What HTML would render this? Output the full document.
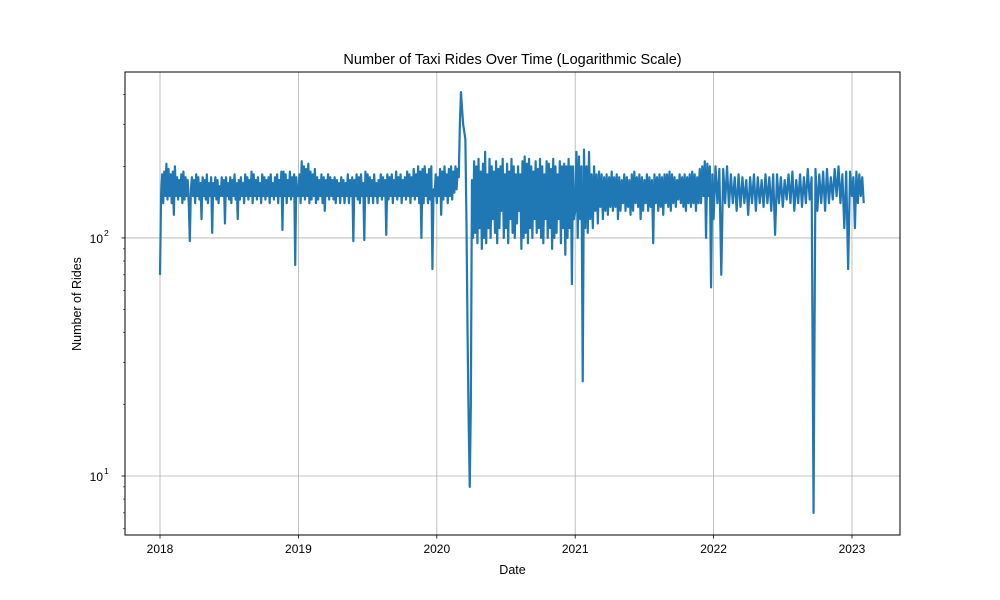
<!DOCTYPE html>
<html><head><meta charset="utf-8"><style>
body{margin:0;background:#fff;}
svg{display:block;font-family:"Liberation Sans","DejaVu Sans",sans-serif;}
</style></head><body>
<svg id="chart" width="1000" height="600">
<rect width="1000" height="600" fill="#fff"/>
<text x="512.5" y="64" font-size="14.5" text-anchor="middle">Number of Taxi Rides Over Time (Logarithmic Scale)</text>
<text x="512.5" y="574" font-size="12.5" text-anchor="middle">Date</text>
<text transform="translate(81,304) rotate(-90)" font-size="12.5" text-anchor="middle">Number of Rides</text>
<g id="grid"></g>
<defs><clipPath id="pc"><rect x="125" y="72" width="775" height="463"/></clipPath></defs>
<g id="series" clip-path="url(#pc)"></g>
<rect x="125" y="72" width="775" height="463" fill="none" stroke="#000" stroke-width="1"/>
<g id="axes"></g>
</svg>
<script>
const xTickLabels = ["2018","2019","2020","2021","2022","2023"];
const xTickYears = [2018,2019,2020,2021,2022,2023];
const yMajorTicks = [10,100];
const yMajorLabels = ["10","10"];
const yMajorExps = ["1","2"];
const yMinorTicks = [6,7,8,9,20,30,40,50,60,70,80,90,200,300,400];
const yearStarts = [2018,2019,2020,2021,2022,2023];
const rides2018 = [70,150,185,140,190,150,205,145,195,150,185,140,190,125,200,150,180,145,175,150,185,140,190,145,180,150,175,140,97,160,
180,150,175,140,185,150,180,145,170,120,180,150,175,145,185,140,170,150,180,105,170,150,180,145,175,140,165,150,180,150,
175,115,180,150,170,145,180,140,175,150,185,145,170,120,175,145,180,150,170,140,185,150,180,145,175,150,190,140,185,150,
175,145,180,150,170,140,185,150,180,145,175,150,180,140,185,150,170,145,180,150,185,140,175,150,190,108,190,150,185,140,
175,150,190,145,180,150,185,77,180,150];
const rides2019 = [150,185,140,210,150,200,145,195,150,205,140,190,145,185,150,195,140,180,145,175,150,185,140,180,130,175,150,185,145,180,
150,175,145,180,140,175,150,170,140,180,150,175,140,170,150,185,140,175,150,180,97,175,150,185,145,180,140,185,150,170,
98,190,150,185,140,180,150,175,140,185,150,170,140,175,150,185,145,180,150,175,103,185,145,180,150,185,140,175,150,190,
145,180,150,185,140,175,150,180,145,190,150,185,140,180,150,195,145,185,150,200,140,190,100,195,140,200,150,185,140,195,
145,200,74,160,150,185];
const rides2020 = [140,180,150,195,125,190,145,200,150,185,140,195,150,200,145,190,155,200,160,195,180,300,410,350,300,280,260,120,40,17,
9,20,175,100,210,105,200,95,215,110,190,90,205,100,230,95,185,110,215,100,200,120,190,105,210,95,195,110,200,130,
215,100,185,110,205,95,190,120,215,105,200,100,185,115,200,130,185,90,210,100,220,105,205,95,215,110,200,100,190,120,
210,105,195,110,215,100,200,95,185,120,210,100,205,110,195,90,215,100,200,105,185,120,210,95,200,110,205,85,200,100,
215,110,200,64,200,120];
const rides2021 = [130,230,100,220,120,200,25,235,110,200,105,230,120,185,110,200,130,185,115,190,135,185,120,180,130,185,125,180,135,190,
130,180,135,185,120,180,130,175,140,185,130,180,135,175,125,185,130,190,140,180,135,185,120,180,130,175,140,185,130,180,
135,175,95,185,140,180,130,185,135,180,125,185,140,185,135,190,130,185,140,180,135,175,145,185,140,180,135,185,130,180,
140,185,135,190,140,185,130,180,140,195,140,200,150,210,100,205,150,200,62,185];
const rides2022 = [120,200,140,195,70,195,140,200,135,185,140,180,130,185,135,180,140,175,125,180,140,185,130,180,140,175,135,185,140,180,
130,185,103,185,140,180,135,175,145,185,140,190,130,175,140,185,135,180,140,195,145,180,7,195,130,185,140,190,130,195,
140,180,145,195,150,200,140,185,110,190,74,190];
const rides2023 = [150,180,110,190,140,185,150,180,140];
const allSeries = [rides2018,rides2019,rides2020,rides2021,rides2022,rides2023];
const lastYearFrac = 0.085;

const NS="http://www.w3.org/2000/svg";
const X0=125,X1=900,Y0=72,Y1=535;
const xMin=2017.747, xMax=2023.347;
const lMin=Math.log10(5.65), lMax=Math.log10(498);
function xs(t){return X0+(t-xMin)/(xMax-xMin)*(X1-X0);}
function ys(v){return Y1-(Math.log10(v)-lMin)/(lMax-lMin)*(Y1-Y0);}
function mk(tag,attrs,parent){const e=document.createElementNS(NS,tag);for(const k in attrs)e.setAttribute(k,attrs[k]);parent.appendChild(e);return e;}
const grid=document.getElementById('grid'),axes=document.getElementById('axes'),ser=document.getElementById('series');
xTickYears.forEach((yr,i)=>{
  const x=xs(yr);
  const g=mk('line',{x1:x,x2:x,y1:Y0,y2:Y1,stroke:'#b0b0b0','stroke-width':0.8},grid);
  
  
  const t=mk('line',{x1:x,x2:x,y1:Y1,y2:Y1+3.5,stroke:'#000','stroke-width':0.8},axes);
  
  
  const l=mk('text',{x:x,y:Y1+18,'font-size':12,'text-anchor':'middle'},axes);
  l.textContent=xTickLabels[i];
  
  
});
yMajorTicks.forEach((v,i)=>{
  const y=ys(v);
  const g=mk('line',{x1:X0,x2:X1,y1:y,y2:y,stroke:'#b0b0b0','stroke-width':0.8},grid);
  
  
  const t=mk('line',{x1:X0-3.5,x2:X0,y1:y,y2:y,stroke:'#000','stroke-width':0.8},axes);
  
  
  const l=mk('text',{x:X0-22,y:y+5,'font-size':12,'text-anchor':'end'},axes);
  l.textContent=yMajorLabels[i];
  
  
  const s=mk('text',{x:X0-21,y:y-2,'font-size':8.5},axes);
  s.textContent=yMajorExps[i];
  
  
});
yMinorTicks.forEach(v=>{
  const y=ys(v);
  const t=mk('line',{x1:X0-2,x2:X0,y1:y,y2:y,stroke:'#000','stroke-width':0.6},axes);
  
  
});
let pts=[];
allSeries.forEach((arr,k)=>{
  const last = k===allSeries.length-1;
  const span = last?lastYearFrac:1;
  arr.forEach((v,i)=>{
    const t=yearStarts[k]+ i/(last?arr.length-1:arr.length)*span;
    pts.push(xs(t).toFixed(2)+','+ys(v).toFixed(2));
  });
});
const p=mk('polyline',{points:pts.join(' '),fill:'none',stroke:'#1f77b4','stroke-width':2.2,'stroke-linejoin':'round'},ser);


</script>
</body></html>
